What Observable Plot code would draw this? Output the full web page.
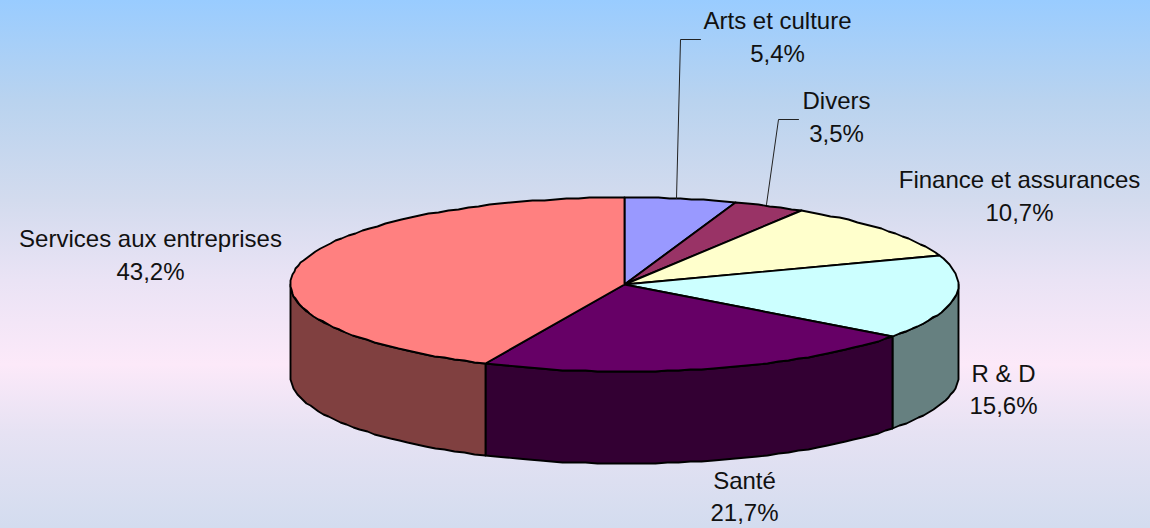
<!DOCTYPE html>
<html lang="fr">
<head>
<meta charset="utf-8">
<script src="https://cdn.jsdelivr.net/npm/d3@7"></script>
<script src="https://cdn.jsdelivr.net/npm/@observablehq/plot@0.6"></script>
<style>
html,body{margin:0;padding:0;width:1150px;height:528px;overflow:hidden;
background:linear-gradient(to bottom,#99CCFF 0%,#B9D3EF 19%,#D3DBEE 38%,#EAE3F5 53%,#FCE9F9 69%,#E6E2F3 82%,#D3DCEF 100%);}
svg{display:block;background:transparent!important;}
</style>
</head>
<body>
<div id="chart"></div>
<script>
const categories = ["Arts et culture","Divers","Finance et assurances","R & D","Santé","Services aux entreprises"];
const shares = [5.4,3.5,10.7,15.6,21.7,43.2];
const shareLabels = ["5,4%","3,5%","10,7%","15,6%","21,7%","43,2%"];
const topColors = ["#9999FF","#993366","#FFFFCC","#CCFFFF","#660066","#FF8080"];
const sideColors = ["#4D4D80","#4D1A33","#808066","#668080","#330033","#804040"];

// layout
const cx=624, cy=284, rx=334, ry=87, depth=92, step=2, grid=1;
const labelXY = [[777,21,54],[836,101,134],[1019,180,213],[1003,374,406],[744,481,513],[150,239,272]];
const leaders = [[[700,39],[680,39],[676,198]],[[798,119],[778,119],[766,204]]];

const total = d3.sum(shares);
const snap = v => Math.round(v/grid)*grid;
const px = a => snap(cx + rx*Math.sin(a*Math.PI/180));
const py = a => snap(cy - ry*Math.cos(a*Math.PI/180));
function arc(a0,a1){
  const n=Math.max(1,Math.round((a1-a0)/step)), out=[];
  for(let i=0;i<=n;i++){const a=a0+(a1-a0)*i/n; out.push([px(a),py(a)]);}
  return out;
}
let cum=0;
const slices = categories.map((c,i)=>{const a0=cum/total*360; cum+=shares[i]; return {c,i,a0,a1:cum/total*360};});

const topRows=[], sideRows=[];
for(const s of slices){
  const pts=[[cx,cy],...arc(s.a0,s.a1)];
  pts.forEach(([x,y])=>topRows.push({k:s.c,x,y,fill:topColors[s.i]}));
  const v0=Math.max(s.a0,90), v1=Math.min(s.a1,270);
  if(v1>v0){
    const e=arc(v0,v1);
    [...e,...e.slice().reverse().map(([x,y])=>[x,y+depth])]
      .forEach(([x,y])=>sideRows.push({k:s.c,x,y,fill:sideColors[s.i]}));
  }
}
const labelRows = categories.flatMap((c,i)=>[
  {t:c,x:labelXY[i][0],y:labelXY[i][1]},
  {t:shareLabels[i],x:labelXY[i][0],y:labelXY[i][2]}
]);
const leaderRows = leaders.flatMap((l,k)=>l.map(([x,y])=>({k,x,y})));

const chart = Plot.plot({
  width:1150,height:528,margin:0,
  x:{domain:[0,1150],range:[0,1150],axis:null},
  y:{domain:[0,528],range:[0,528],axis:null},
  color:{type:"identity"},
  style:{background:"transparent"},
  marks:[
    Plot.line(sideRows,{x:"x",y:"y",z:"k",fill:"fill",stroke:"#000",strokeWidth:1.9,curve:"linear-closed",strokeLinejoin:"round"}),
    Plot.line(topRows,{x:"x",y:"y",z:"k",fill:"fill",stroke:"#000",strokeWidth:1.9,curve:"linear-closed",strokeLinejoin:"round"}),
    Plot.line(leaderRows,{x:"x",y:"y",z:"k",stroke:"#222",strokeWidth:1}),
    Plot.text(labelRows,{x:"x",y:"y",text:"t",fill:"#111",fontSize:24,fontFamily:"Liberation Sans, Arial, sans-serif",textAnchor:"middle",lineAnchor:"middle"})
  ]
});
document.getElementById("chart").append(chart);
</script>
</body>
</html>
